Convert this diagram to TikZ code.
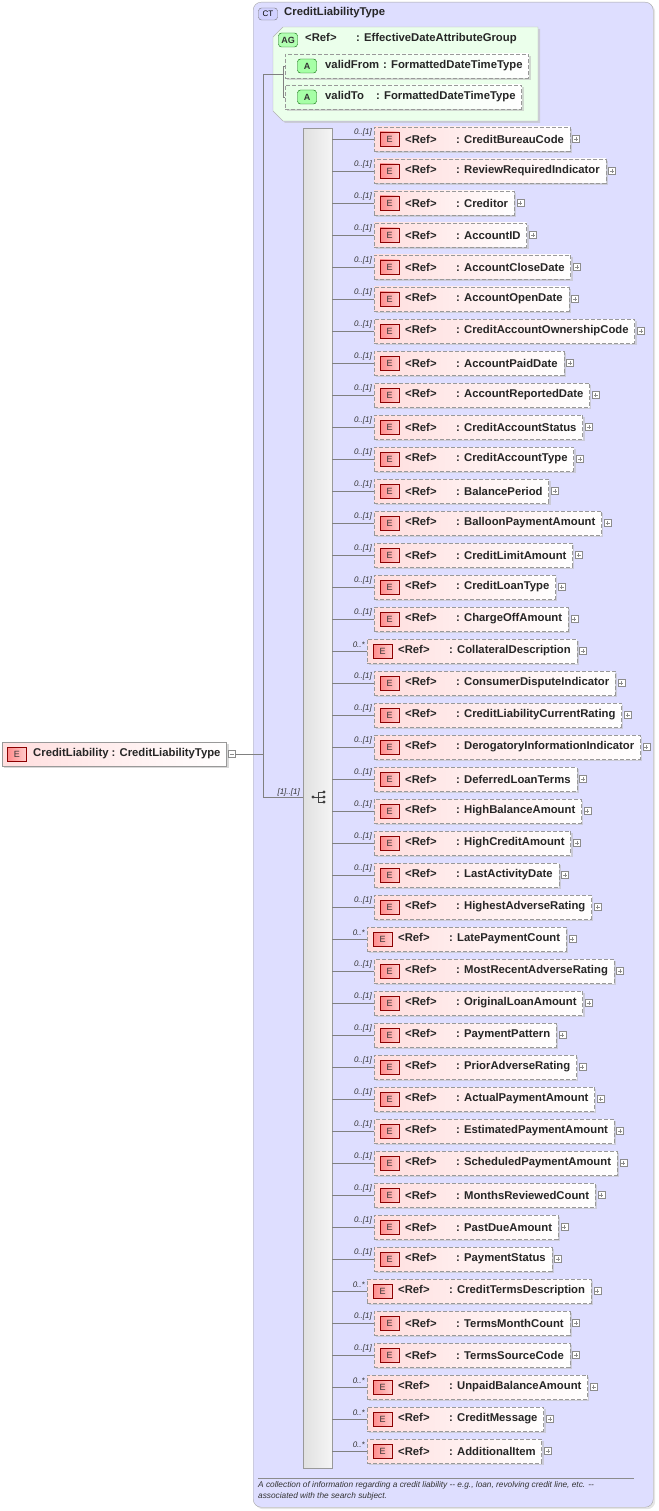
\documentclass[tikz,border=0pt]{standalone}
\usepackage{fontspec}
\setmainfont{Liberation Sans}
\usetikzlibrary{shadows,calc}
\begin{document}
\begin{tikzpicture}[x=1pt,y=-1pt,
  shd/.style={drop shadow={shadow xshift=2pt,shadow yshift=-2pt,fill=black!25,opacity=0.6}},
  ebox/.style={draw=black!40,dash pattern=on 4pt off 2pt,left color=red!13,right color=white,minimum height=24pt,anchor=west,inner sep=0pt,font=\fontsize{11.3}{12}\selectfont\bfseries,text=black!85,shd},
  badge/.style={draw=red!55!black,left color=red!45,right color=red!20,minimum width=19pt,minimum height=14pt,inner sep=0pt,font=\fontsize{9}{10}\selectfont,text=black!80},
  abadge/.style={draw=green!40!black,fill=green!35,minimum width=19pt,minimum height=14pt,inner sep=0pt,font=\fontsize{9}{10}\selectfont\bfseries,text=black!80,rounded corners=3pt},
  plus/.style={draw=black!45,fill=white,minimum size=7pt,inner sep=0pt},
  mult/.style={font=\fontsize{8}{9}\selectfont\itshape,text=black!80,inner sep=1pt},
  conn/.style={draw=black!50,line width=0.6pt}]
\useasboundingbox (0,0) rectangle (658,1511);
% complex type box
\node[draw=black!35,fill=blue!13,rounded corners=8pt,minimum width=400pt,minimum height=1505pt,anchor=north west,inner sep=0pt,drop shadow={shadow xshift=2pt,shadow yshift=-2pt,fill=black!20}] (ct) at (253,2) {};
\node[draw=black!55,fill=blue!18,rounded corners=3pt,minimum width=19pt,minimum height=12pt,inner sep=0pt,font=\fontsize{8}{9}\selectfont] (ctb) at (268,14) {CT};
\node[anchor=west,font=\fontsize{11.3}{12}\selectfont\bfseries,text=black!85,inner sep=0pt] (ctt) at (284,13) {CreditLiabilityType};
% attribute group
\path[draw=black!30,fill=green!8,shd] (283,27) -- (538,27) -- (538,121) -- (283,121) -- (273,111) -- (273,37) -- cycle;
\node[abadge,fill=green!30] (agb) at (288,40) {AG};
\node[anchor=west,font=\fontsize{11.3}{12}\selectfont\bfseries,text=black!85,inner sep=0pt] (agt) at (305,39) {\makebox[51pt][l]{<Ref>}: EffectiveDateAttributeGroup};
\node[ebox,left color=green!10] (af) at (285,66) {\hspace*{40pt}\makebox[58pt][l]{validFrom}: FormattedDateTimeType\hspace*{6pt}};
\node[ebox,left color=green!10] (at) at (285,97) {\hspace*{40pt}\makebox[51pt][l]{validTo}: FormattedDateTimeType\hspace*{6pt}};
\node[abadge] (ab1) at (307,66) {A};
\node[abadge] (ab2) at (307,97) {A};
\draw[conn] (263,74) -- (283,74);
\draw[conn] (283,74) |- (af.west);
\draw[conn] (283,74) |- (at.west);
% root element
\node[ebox,solid] (root) at (2,754) {\hspace*{31pt}CreditLiability : CreditLiabilityType\hspace*{6pt}};
\node[badge] (rb) at (17,754) {E};
\node[plus] (rp) at ($(root.east)+(5,0)$) {};
\draw[black!45] ($(rp)+(-2,0)$) -- ($(rp)+(2,0)$);
\coordinate (j) at (263,754);
\draw[conn] (rp.east) -- (j) -- (263,74);
\draw[conn] (j) -- (263,797) -- (303,797);
\node[mult,anchor=south east] (m0) at (301,797) {[1]..[1]};
% sequence bar
\node[draw=black!40,left color=black!12,right color=black!4,minimum width=29pt,minimum height=1340pt,anchor=north west,inner sep=0pt] (seq) at (303,128) {};
\fill[black!75] (313,797) circle (1.6pt);
\draw[black!75,line width=0.8pt] (313,797) -- (318,797) (318,792) -- (318,802) (318,792) -- (324,792) (318,797) -- (324,797) (318,802) -- (324,802);
\foreach \yy in {792,797,802} \fill[black!75] (324,\yy) circle (1.6pt);
% elements
\foreach \n/\m [count=\i from 0] in {CreditBureauCode/1,ReviewRequiredIndicator/1,Creditor/1,AccountID/1,AccountCloseDate/1,AccountOpenDate/1,CreditAccountOwnershipCode/1,AccountPaidDate/1,AccountReportedDate/1,CreditAccountStatus/1,CreditAccountType/1,BalancePeriod/1,BalloonPaymentAmount/1,CreditLimitAmount/1,CreditLoanType/1,ChargeOffAmount/1,CollateralDescription/*,ConsumerDisputeIndicator/1,CreditLiabilityCurrentRating/1,DerogatoryInformationIndicator/1,DeferredLoanTerms/1,HighBalanceAmount/1,HighCreditAmount/1,LastActivityDate/1,HighestAdverseRating/1,LatePaymentCount/*,MostRecentAdverseRating/1,OriginalLoanAmount/1,PaymentPattern/1,PriorAdverseRating/1,ActualPaymentAmount/1,EstimatedPaymentAmount/1,ScheduledPaymentAmount/1,MonthsReviewedCount/1,PastDueAmount/1,PaymentStatus/1,CreditTermsDescription/*,TermsMonthCount/1,TermsSourceCode/1,UnpaidBalanceAmount/*,CreditMessage/*,AdditionalItem/*}{
  \pgfmathsetmacro{\yy}{139+32*\i}
  \if\m*\def\xx{367}\def\ml{0..*}\else\def\xx{374}\def\ml{0..[1]}\fi
  \node[ebox] (e\i) at (\xx,\yy) {\hspace*{31pt}\makebox[51pt][l]{<Ref>}: \n\hspace*{6pt}};
  \node[badge] (b\i) at ($(e\i.west)+(15.5,0)$) {E};
  \node[plus] (p\i) at ($(e\i.east)+(6,0)$) {};
  \draw[black!45] ($(p\i)+(-2,0)$) -- ($(p\i)+(2,0)$) ($(p\i)+(0,-2)$) -- ($(p\i)+(0,2)$);
  \draw[conn] (332,\yy) -- (e\i.west);
  \node[mult,anchor=south east] (ml\i) at ($(e\i.west)+(-1,-2)$) {\ml};
}
% description
\draw[black!45] (258,1478) -- (634,1478);
\node[anchor=north west,align=left,font=\fontsize{8.3}{11}\selectfont\itshape,text=black!80,inner sep=0pt] (desc) at (258,1481) {A collection of information regarding a credit liability -{}- e.g., loan, revolving credit line, etc. -{}-\\associated with the search subject.};
\end{tikzpicture}
\end{document}
